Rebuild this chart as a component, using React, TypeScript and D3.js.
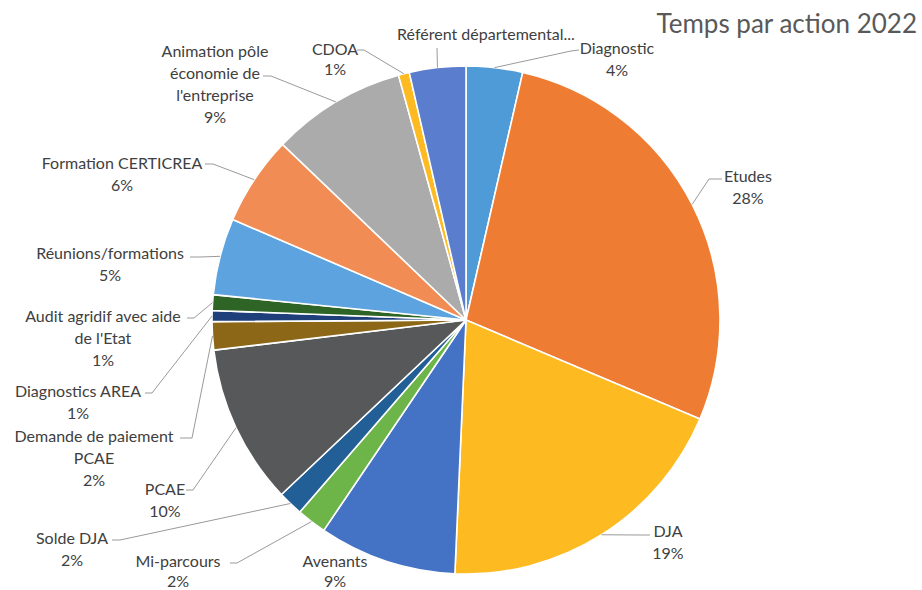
import React from "react";
import * as d3 from "d3";

const categories = [
  "Diagnostic",
  "Etudes",
  "DJA",
  "Avenants",
  "Mi-parcours",
  "Solde DJA",
  "PCAE",
  "Demande de paiement PCAE",
  "Diagnostics AREA",
  "Audit agridif avec aide de l'Etat",
  "Réunions/formations",
  "Formation CERTICREA",
  "Animation pôle économie de l'entreprise",
  "CDOA",
  "Référent départemental",
];
const values = [3.6, 27.9, 19.4, 8.8, 1.9, 1.6, 10.2, 1.8, 0.7, 1.0, 4.9, 5.7, 8.6, 0.7, 3.6];
const colors = [
  "#4E9BD8", "#EE7D33", "#FDBA21", "#4472C4", "#6DB548", "#225F96", "#565859",
  "#8C6717", "#1F3F7A", "#2E6425", "#5CA3DF", "#F18C55", "#ABABAB", "#FDBA21", "#5A7ECD",
];
const labelLines = [
  ["Diagnostic"],
  ["Etudes"],
  ["DJA"],
  ["Avenants"],
  ["Mi-parcours"],
  ["Solde DJA"],
  ["PCAE"],
  ["Demande de paiement", "PCAE"],
  ["Diagnostics AREA"],
  ["Audit agridif avec aide", "de l'Etat"],
  ["Réunions/formations"],
  ["Formation CERTICREA"],
  ["Animation pôle", "économie de", "l'entreprise"],
  ["CDOA"],
  ["Référent départemental..."],
];
const showPercent = [true, true, true, true, true, true, true, true, true, true, true, true, true, true, false];
const title = "Temps par action 2022";

// layout (label anchor positions and leader starts)
const labelPos: [number, number][] = [
  [617, 47], [748, 175], [668, 530], [335, 560], [178, 560], [72, 537], [165, 488],
  [94, 435], [78, 390], [103, 315], [110, 252], [122, 162], [215, 50], [335, 48], [486, 33],
];
const lineStep = [22, 22, 22, 20, 20, 22, 22, 22, 22, 22, 22, 22, 22, 20, 22];
const leaderPts: ([number, number][] | null)[] = [
  [[579, 50], [571, 51]],
  [[722, 179], [709, 179]],
  [[650, 535], [640, 535]],
  null,
  [[230, 563], [237, 563]],
  [[112, 540], [120, 540]],
  [[186, 490], [193, 490]],
  [[180, 438], [192, 438]],
  [[145, 393], [152, 393]],
  [[187, 318], [194, 318]],
  [[190, 257], [200, 257]],
  [[205, 164], [213, 164]],
  [[263, 76], [271, 76]],
  [[357, 50], [364, 50]],
  [[437, 48]],
];

const W = 922, H = 590;
const cx = 466, cy = 320, R = 254;
const FONT = "Lato, 'Open Sans', sans-serif";

export default function App() {
  const total = d3.sum(values);
  const pie = d3.pie<number>().sort(null).startAngle(0).endAngle(2 * Math.PI);
  const arcs = pie(values);
  const arc = d3.arc<d3.PieArcDatum<number>>().innerRadius(0).outerRadius(R);
  const lineGen = d3.line();

  return (
    <svg width={W} height={H} style={{ position: "absolute", left: 0, top: 0, background: "#fff" }}>
      <rect width={W} height={H} fill="#fff" />
      <g transform={`translate(${cx},${cy})`}>
        {arcs.map((a, i) => (
          <path key={i} d={arc(a) || ""} fill={colors[i]} stroke="#fff" strokeWidth={1.6} strokeLinejoin="round" />
        ))}
      </g>
      {arcs.map((a, i) => {
        const pts = leaderPts[i];
        if (!pts) return null;
        const mid = (a.startAngle + a.endAngle) / 2;
        const end: [number, number] = [cx + R * Math.sin(mid), cy - R * Math.cos(mid)];
        return (
          <path key={"l" + i} d={lineGen([...pts, end]) || ""} fill="none" stroke="#9a9a9a" strokeWidth={1} />
        );
      })}
      {arcs.map((a, i) => {
        const [x, y] = labelPos[i];
        const lines = [...labelLines[i]];
        if (showPercent[i]) lines.push(`${Math.round((values[i] / total) * 100)}%`);
        return (
          <text key={"t" + i} x={x} y={y} textAnchor="middle" fontFamily={FONT} fontSize={16} fill="#404040">
            {lines.map((ln, j) => (
              <tspan key={j} x={x} y={y + j * lineStep[i]} dominantBaseline="central">{ln}</tspan>
            ))}
          </text>
        );
      })}
      <text x={917} y={23} textAnchor="end" dominantBaseline="central" fontFamily={FONT} fontSize={26} fill="#595959">
        {title}
      </text>
    </svg>
  );
}
